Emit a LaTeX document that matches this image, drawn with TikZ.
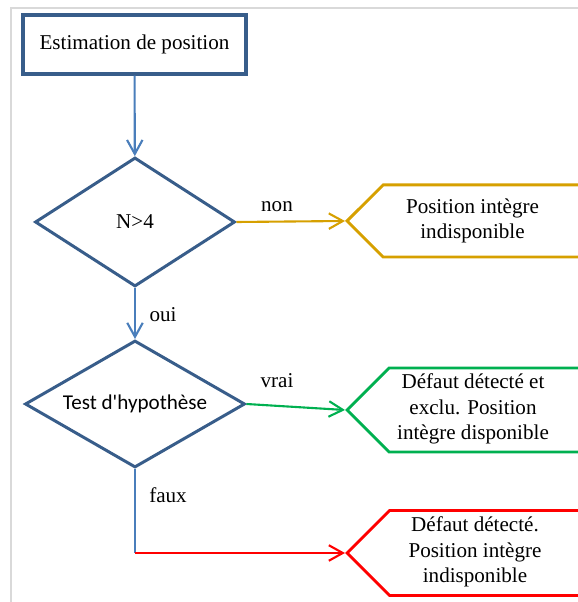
\documentclass[tikz,border=0pt]{standalone}
\usepackage{fontspec}
\setmainfont{Liberation Serif}
\newfontfamily\calibri{Carlito}
\usetikzlibrary{arrows.meta,shapes.geometric,shapes.symbols}

\definecolor{cadre}{RGB}{217,217,217}
\definecolor{bordbleu}{RGB}{56,93,138}
\definecolor{lienbleu}{RGB}{74,126,187}
\definecolor{ocre}{RGB}{214,160,0}
\definecolor{vert}{RGB}{0,176,80}
\definecolor{rouge}{RGB}{255,0,0}

\tikzset{
  every node/.style={font=\fontsize{12}{14.5}\selectfont},
  debut/.style={draw=bordbleu, line width=1.8pt, minimum width=4.46cm, minimum height=1.18cm},
  decision/.style={diamond, draw=bordbleu, line width=1.7pt, inner sep=0pt},
  issue/.style={signal, signal to=west and east, signal pointer angle=90, line width=1.7pt,
    minimum width=7cm, anchor=west},
  texte/.style={align=center, inner sep=0pt},
  lien/.style={line width=1.2pt, -{Straight Barb[length=2.8mm, width=3.1mm]}},
}

\begin{document}
\begin{tikzpicture}
\useasboundingbox (0,0) rectangle (11.56,12.04);
\clip (0,0) rectangle (11.56,12.04);

\draw[cadre, line width=1.1pt] (0.22,0) -- (0.22,11.88) -- (11.56,11.88);

\node[debut] (est) at (2.69,11.15) {Estimation de position};
\node[decision, aspect=1.55, minimum width=4cm, minimum height=2.58cm] (n4) at (2.70,7.60) {N>4};
\node[decision, aspect=1.73, minimum width=4.4cm, minimum height=2.54cm] (test) at (2.70,3.96) {\calibri Test d'hypothèse};

\node[issue, draw=ocre, minimum height=1.44cm] (indispo) at (6.90,7.62) {};
\node[issue, draw=vert, minimum height=1.68cm] (dispo) at (6.90,3.84) {};
\node[issue, draw=rouge, minimum height=1.70cm] (defaut) at (6.90,0.98) {};

\node[texte] (t1) at (9.45,7.62) {Position intègre\\indisponible};
\node[texte] (t2) at (9.46,3.86) {Défaut détecté et\\exclu. Position\\intègre disponible};
\node[texte] (t3) at (9.50,1.00) {Défaut détecté.\\Position intègre\\indisponible};

\coordinate (coin) at (test.south |- defaut.west);

\draw[lien, lienbleu] (est) -- (n4);
\draw[lien, lienbleu] (n4) -- (test);
\draw[lien, ocre] (n4.east) -- (indispo.west);
\draw[lien, vert] (test.east) -- (dispo.west);
\draw[lienbleu, line width=1.2pt] (test.south) -- (coin);
\draw[lien, rouge] (coin) -- (defaut.west);

\node (non) at (5.54,7.90) {non};
\node (vrai) at (5.54,4.42) {vrai};
\node (oui) at (3.26,5.74) {oui};
\node (faux) at (3.36,2.14) {faux};
\end{tikzpicture}
\end{document}
